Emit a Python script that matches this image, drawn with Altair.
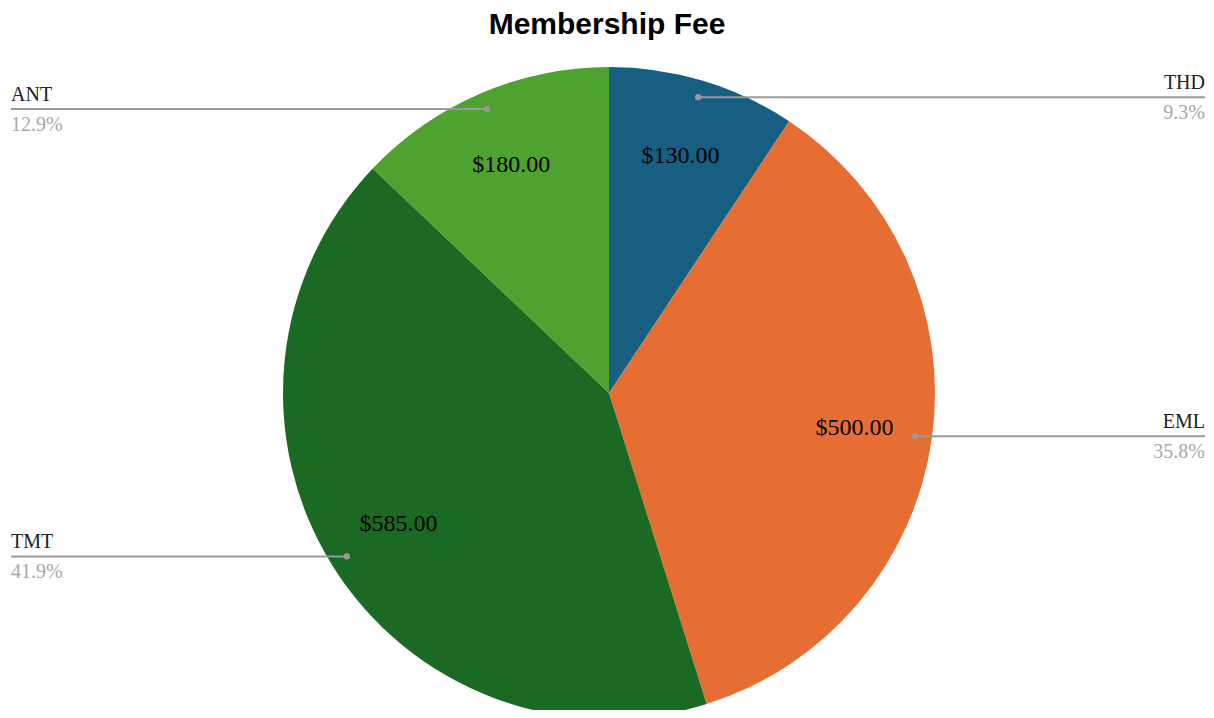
import altair as alt
import pandas as pd

categories = ["THD", "EML", "TMT", "ANT"]
values = [130, 500, 585, 180]
colors = ["#175e83", "#e66e33", "#1b6a23", "#4ea22f"]

df = pd.DataFrame({"category": categories, "value": values, "order": list(range(len(categories)))})

W, H = 1198, 702
CX, CY = 601, 385
R = 326
R_DOT = 309
R_LBL = 248
LINE_GRAY = "#9a9a9a"

base = alt.Chart(df)

arcs = base.mark_arc(outerRadius=R).encode(
    theta=alt.Theta("value:Q", stack=True),
    order=alt.Order("order:Q"),
    color=alt.Color("category:N", scale=alt.Scale(domain=categories, range=colors), legend=None),
    x=alt.value(CX),
    y=alt.value(CY),
)

calc = base.transform_joinaggregate(total="sum(value)").transform_window(
    cum="sum(value)", sort=[alt.SortField("order")], frame=[None, 0]
).transform_calculate(
    ang="(datum.cum - datum.value / 2) / datum.total * 2 * PI",
    pct="format(datum.value / datum.total, '.1%')",
    money="'$' + format(datum.value, ',.2f')",
    px=f"{CX} + {R_DOT} * sin(datum.ang)",
    py=f"{CY} - {R_DOT} * cos(datum.ang)",
    lx=f"{CX} + {R_LBL} * sin(datum.ang)",
    ly=f"{CY} - {R_LBL} * cos(datum.ang)",
    side="sin(datum.ang) > 0 ? 'right' : 'left'",
    ex=f"sin(datum.ang) > 0 ? {W - 1} : 3",
    nameY="datum.py - 8",
    pctY="datum.py + 22",
)

rules = calc.mark_rule(color=LINE_GRAY, strokeWidth=2).encode(
    x=alt.X("px:Q", scale=None),
    x2="ex:Q",
    y=alt.Y("py:Q", scale=None),
)

dots = calc.mark_circle(size=40, color=LINE_GRAY, opacity=1).encode(
    x=alt.X("px:Q", scale=None),
    y=alt.Y("py:Q", scale=None),
)

values_text = calc.mark_text(
    font="Liberation Serif", fontSize=24, align="center", baseline="middle", color="#000000"
).encode(
    x=alt.X("lx:Q", scale=None),
    y=alt.Y("ly:Q", scale=None),
    text="money:N",
)

layers = [arcs, rules, dots, values_text]
for side in ["left", "right"]:
    sub = calc.transform_filter(f"datum.side == '{side}'")
    layers.append(
        sub.mark_text(font="Liberation Serif", fontSize=20, align=side, baseline="alphabetic", color="#222222").encode(
            x=alt.X("ex:Q", scale=None),
            y=alt.Y("nameY:Q", scale=None),
            text="category:N",
        )
    )
    layers.append(
        sub.mark_text(font="Liberation Serif", fontSize=20, align=side, baseline="alphabetic", color="#a8a8a8").encode(
            x=alt.X("ex:Q", scale=None),
            y=alt.Y("pctY:Q", scale=None),
            text="pct:N",
        )
    )

chart = alt.layer(*layers).properties(
    width=W,
    height=H,
    autosize=alt.AutoSizeParams(type="none"),
    padding={"left": 0, "right": 0, "top": 0, "bottom": 0},
    title=alt.TitleParams(
        "Membership Fee",
        font="Liberation Sans",
        fontSize=30,
        fontWeight="bold",
        color="#000000",
        anchor="middle",
        baseline="alphabetic",
        dy=60,
    ),
).configure_view(stroke=None)

chart.save("out.html", embed_options={"renderer": "svg", "actions": False})
